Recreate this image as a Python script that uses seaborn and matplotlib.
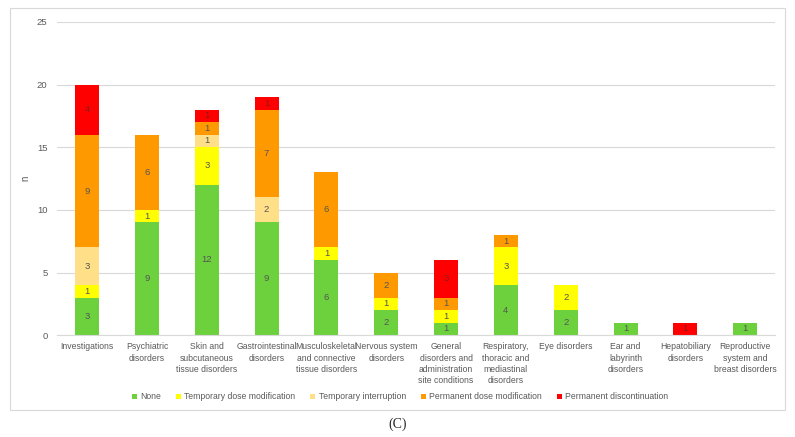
import matplotlib
matplotlib.use("Agg")
import matplotlib.pyplot as plt
import numpy as np
import pandas as pd
import seaborn as sns
from matplotlib.patches import Rectangle

categories = ["Investigations", "Psychiatric\ndisorders",
              "Skin and\nsubcutaneous\ntissue disorders",
              "Gastrointestinal\ndisorders",
              "Musculoskeletal\nand connective\ntissue disorders",
              "Nervous system\ndisorders",
              "General\ndisorders and\nadministration\nsite conditions",
              "Respiratory,\nthoracic and\nmediastinal\ndisorders",
              "Eye disorders", "Ear and\nlabyrinth\ndisorders",
              "Hepatobiliary\ndisorders",
              "Reproductive\nsystem and\nbreast disorders"]
none = [3, 9, 12, 9, 6, 2, 1, 4, 2, 1, 0, 1]
temp_dose = [1, 1, 3, 0, 1, 1, 1, 3, 2, 0, 0, 0]
temp_interrupt = [3, 0, 1, 2, 0, 0, 0, 0, 0, 0, 0, 0]
perm_dose = [9, 6, 1, 7, 6, 2, 1, 1, 0, 0, 0, 0]
perm_disc = [4, 0, 1, 1, 0, 0, 3, 0, 0, 0, 1, 0]

series = [("None", none, "#6dd13e"),
          ("Temporary dose modification", temp_dose, "#ffff00"),
          ("Temporary interruption", temp_interrupt, "#ffdf88"),
          ("Permanent dose modification", perm_dose, "#ff9900"),
          ("Permanent discontinuation", perm_disc, "#ff0000")]

sns.set_style("white")
plt.rcParams["font.family"] = ["Liberation Sans", "DejaVu Sans"]

fig = plt.figure(figsize=(7.95, 4.37), dpi=100)
ax = fig.add_axes([0.072, 0.233, 0.903, 0.717])

bottom = np.zeros(len(categories))
for name, vals, col in series:
    df = pd.DataFrame({"cat": categories, "n": vals})
    sns.barplot(data=df, x="cat", y="n", color=col, width=0.4,
                bottom=bottom, ax=ax, label=name, saturation=1,
                linewidth=0)
    for i, v in enumerate(vals):
        if v > 0:
            tc = "#8b1a1a" if col == "#ff0000" else "#555555"
            ax.text(i, bottom[i] + v / 2, str(v), ha="center", va="center",
                    fontsize=6.8, color=tc)
    bottom = bottom + np.array(vals)

handles, labels = ax.get_legend_handles_labels()
if ax.get_legend() is not None:
    ax.get_legend().remove()

ax.set_ylim(0, 25)
ax.set_xlim(-0.5, len(categories) - 0.5)
ax.set_yticks(range(0, 26, 5))
ax.yaxis.grid(True, color="#d9d9d9", linewidth=0.8)
ax.set_axisbelow(True)
for s in ["top", "right", "left"]:
    ax.spines[s].set_visible(False)
ax.spines["bottom"].set_color("#d9d9d9")
ax.tick_params(axis="both", length=0, labelsize=6.2, labelcolor="#595959")
ax.tick_params(axis="y", labelsize=6.8, pad=7)
ax.tick_params(axis="x", pad=5)
for t in ax.get_xticklabels():
    t.set_linespacing(1.35)
ax.set_xlabel("")
ax.set_ylabel("n", fontsize=7, color="#595959")
ax.yaxis.set_label_coords(-0.037, 0.5)

leg = fig.legend(handles, labels, loc="center", bbox_to_anchor=(0.503, 0.092),
                 ncol=5, frameon=False, fontsize=6.2, handlelength=0.6,
                 handleheight=0.6, columnspacing=1.7, handletextpad=0.4)
for t in leg.get_texts():
    t.set_color("#595959")

fig.patches.append(Rectangle((10 / 795, 1 - 410 / 437), 775 / 795, 402 / 437,
                             transform=fig.transFigure, fill=False,
                             edgecolor="#d9d9d9", linewidth=0.8))
fig.text(0.5, 1 - 424 / 437, "(C)", ha="center", va="center", fontsize=10,
         family=["Liberation Serif", "DejaVu Serif"])

fig.savefig("out.png", dpi=100)
